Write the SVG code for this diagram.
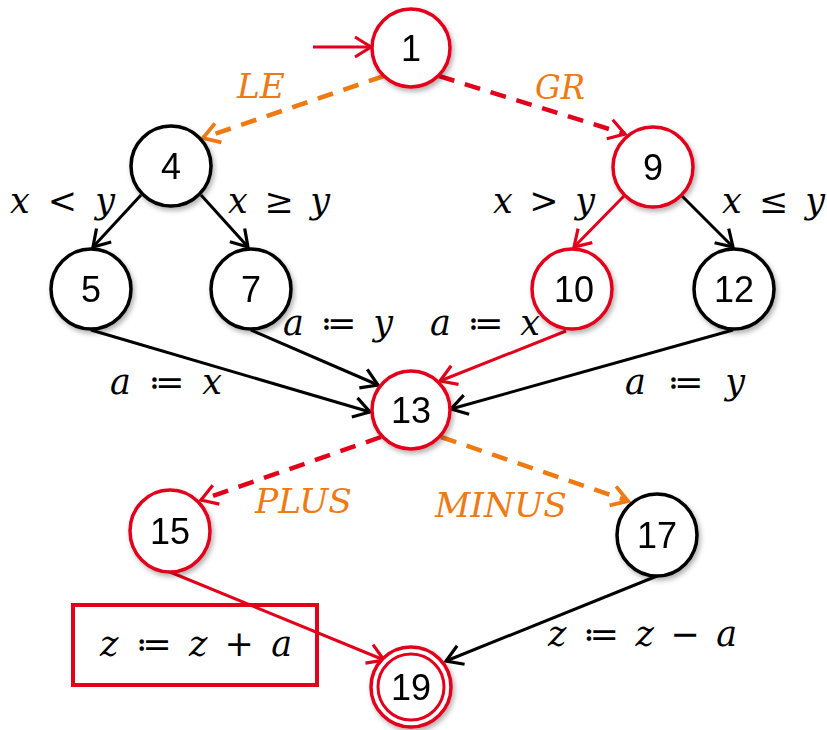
<svg xmlns="http://www.w3.org/2000/svg" width="827" height="730" viewBox="0 0 827 730">
<style>
.n{fill:#fff;stroke-width:3.5}
.k{stroke:#000}
.r{stroke:#E2001A}
.num{font-family:"Liberation Sans",Arial,sans-serif;font-size:36px;fill:#000;text-anchor:middle}
.lb{font-family:"DejaVu Serif","Liberation Serif",serif;font-style:italic;font-size:35px;fill:#000}
.ol{font-family:"DejaVu Serif","Liberation Serif",serif;font-style:italic;font-size:33px;fill:#EE7A14}
.e{fill:none;stroke-width:3}
.ek{stroke:#000}
.er{stroke:#E2001A}
.dr{stroke:#E2001A;stroke-width:4.5;stroke-dasharray:16 11}
.do{stroke:#EE7A14;stroke-width:4.5;stroke-dasharray:16 11}
</style>
<defs>
<filter id="sh" x="-20%" y="-20%" width="150%" height="150%">
<feDropShadow dx="2" dy="3" stdDeviation="2.5" flood-color="#000" flood-opacity="0.3"/>
</filter>
<marker id="ak" markerUnits="userSpaceOnUse" markerWidth="28" markerHeight="28" refX="21" refY="14" orient="auto" viewBox="0 0 28 28"><path d="M5,4 L21,14 L5,24" fill="none" stroke="#000" stroke-width="3.2"/></marker>
<marker id="ar" markerUnits="userSpaceOnUse" markerWidth="28" markerHeight="28" refX="21" refY="14" orient="auto" viewBox="0 0 28 28"><path d="M5,4 L21,14 L5,24" fill="none" stroke="#E2001A" stroke-width="3.2"/></marker>
<marker id="ao" markerUnits="userSpaceOnUse" markerWidth="28" markerHeight="28" refX="21" refY="14" orient="auto" viewBox="0 0 28 28"><path d="M5,4 L21,14 L5,24" fill="none" stroke="#EE7A14" stroke-width="3.8"/></marker>
</defs>

<g id="connectors">
<line class="e er" x1="313" y1="47" x2="371" y2="47" marker-end="url(#ar)"/>
<line class="e do" x1="384" y1="76" x2="203" y2="138" marker-end="url(#ao)"/>
<line class="e dr" x1="439" y1="76" x2="625" y2="134" marker-end="url(#ar)"/>
<line class="e ek" x1="141" y1="195" x2="93" y2="247" marker-end="url(#ak)"/>
<line class="e ek" x1="201" y1="195" x2="248" y2="247" marker-end="url(#ak)"/>
<line class="e er" x1="624" y1="196" x2="574" y2="247" marker-end="url(#ar)"/>
<line class="e ek" x1="682" y1="196" x2="733" y2="247" marker-end="url(#ak)"/>
<line class="e ek" x1="91" y1="330" x2="370" y2="412" marker-end="url(#ak)"/>
<line class="e ek" x1="251" y1="330" x2="378" y2="385" marker-end="url(#ak)"/>
<line class="e er" x1="566" y1="331" x2="440" y2="381" marker-end="url(#ar)"/>
<line class="e ek" x1="733" y1="330" x2="451" y2="409" marker-end="url(#ak)"/>
<line class="e dr" x1="381" y1="437" x2="201" y2="500" marker-end="url(#ar)"/>
<line class="e do" x1="441" y1="437" x2="628" y2="501" marker-end="url(#ao)"/>
<line class="e er" x1="170" y1="572" x2="384" y2="660" marker-end="url(#ar)"/>
<line class="e ek" x1="657" y1="576" x2="446" y2="661" marker-end="url(#ak)"/>
</g>

<g id="labels">
<text class="ol" x="237" y="98" textLength="48" lengthAdjust="spacingAndGlyphs">LE</text>
<text class="ol" x="535" y="99" textLength="50" lengthAdjust="spacingAndGlyphs">GR</text>
<text class="lb" x="10" y="213" textLength="105" lengthAdjust="spacing">x &lt; y</text>
<text class="lb" x="228" y="213" textLength="102" lengthAdjust="spacing">x ≥ y</text>
<text class="lb" x="493" y="213" textLength="102" lengthAdjust="spacing">x &gt; y</text>
<text class="lb" x="722" y="213" textLength="103" lengthAdjust="spacing">x ≤ y</text>
<text class="lb" x="283" y="335" textLength="110" lengthAdjust="spacing">a ≔ y</text>
<text class="lb" x="430" y="335" textLength="110" lengthAdjust="spacing">a ≔ x</text>
<text class="lb" x="110" y="394" textLength="112" lengthAdjust="spacing">a ≔ x</text>
<text class="lb" x="625" y="394" textLength="120" lengthAdjust="spacing">a  ≔ y</text>
<text class="ol" x="255" y="513" textLength="97" lengthAdjust="spacingAndGlyphs">PLUS</text>
<text class="ol" x="435" y="517" textLength="132" lengthAdjust="spacingAndGlyphs">MINUS</text>
<text class="lb" x="548" y="646" textLength="189" lengthAdjust="spacing">z  ≔ z − a</text>
</g>

<g id="box">
<rect x="73" y="605" width="244" height="80" fill="none" stroke="#E2001A" stroke-width="4"/>
<text class="lb" x="100" y="656" textLength="192" lengthAdjust="spacing">z  ≔ z + a</text>
</g>

<g id="node1" filter="url(#sh)"><circle class="n r" cx="411" cy="48" r="39"/><text class="num" x="411" y="61">1</text></g>
<g id="node4" filter="url(#sh)"><circle class="n k" cx="171" cy="166" r="40"/><text class="num" x="171" y="179">4</text></g>
<g id="node9" filter="url(#sh)"><circle class="n r" cx="653" cy="167" r="40"/><text class="num" x="653" y="180">9</text></g>
<g id="node5" filter="url(#sh)"><circle class="n k" cx="91" cy="289" r="40"/><text class="num" x="91" y="302">5</text></g>
<g id="node7" filter="url(#sh)"><circle class="n k" cx="251" cy="289" r="40"/><text class="num" x="251" y="302">7</text></g>
<g id="node10" filter="url(#sh)"><circle class="n r" cx="572" cy="289" r="40"/><text class="num" x="574" y="302">10</text></g>
<g id="node12" filter="url(#sh)"><circle class="n k" cx="734" cy="289" r="40"/><text class="num" x="734" y="302">12</text></g>
<g id="node13" filter="url(#sh)"><circle class="n r" cx="411" cy="410" r="39"/><text class="num" x="411" y="423">13</text></g>
<g id="node15" filter="url(#sh)"><ellipse class="n r" cx="170" cy="531" rx="40" ry="41"/><text class="num" x="170" y="544">15</text></g>
<g id="node17" filter="url(#sh)"><ellipse class="n k" cx="657" cy="535" rx="40" ry="41"/><text class="num" x="657" y="548">17</text></g>
<g id="node19" filter="url(#sh)"><ellipse class="n r" cx="411" cy="687" rx="40" ry="40"/><ellipse fill="none" stroke="#E2001A" stroke-width="3" cx="411" cy="687" rx="33" ry="33"/><text class="num" x="411" y="700">19</text></g>
</svg>
